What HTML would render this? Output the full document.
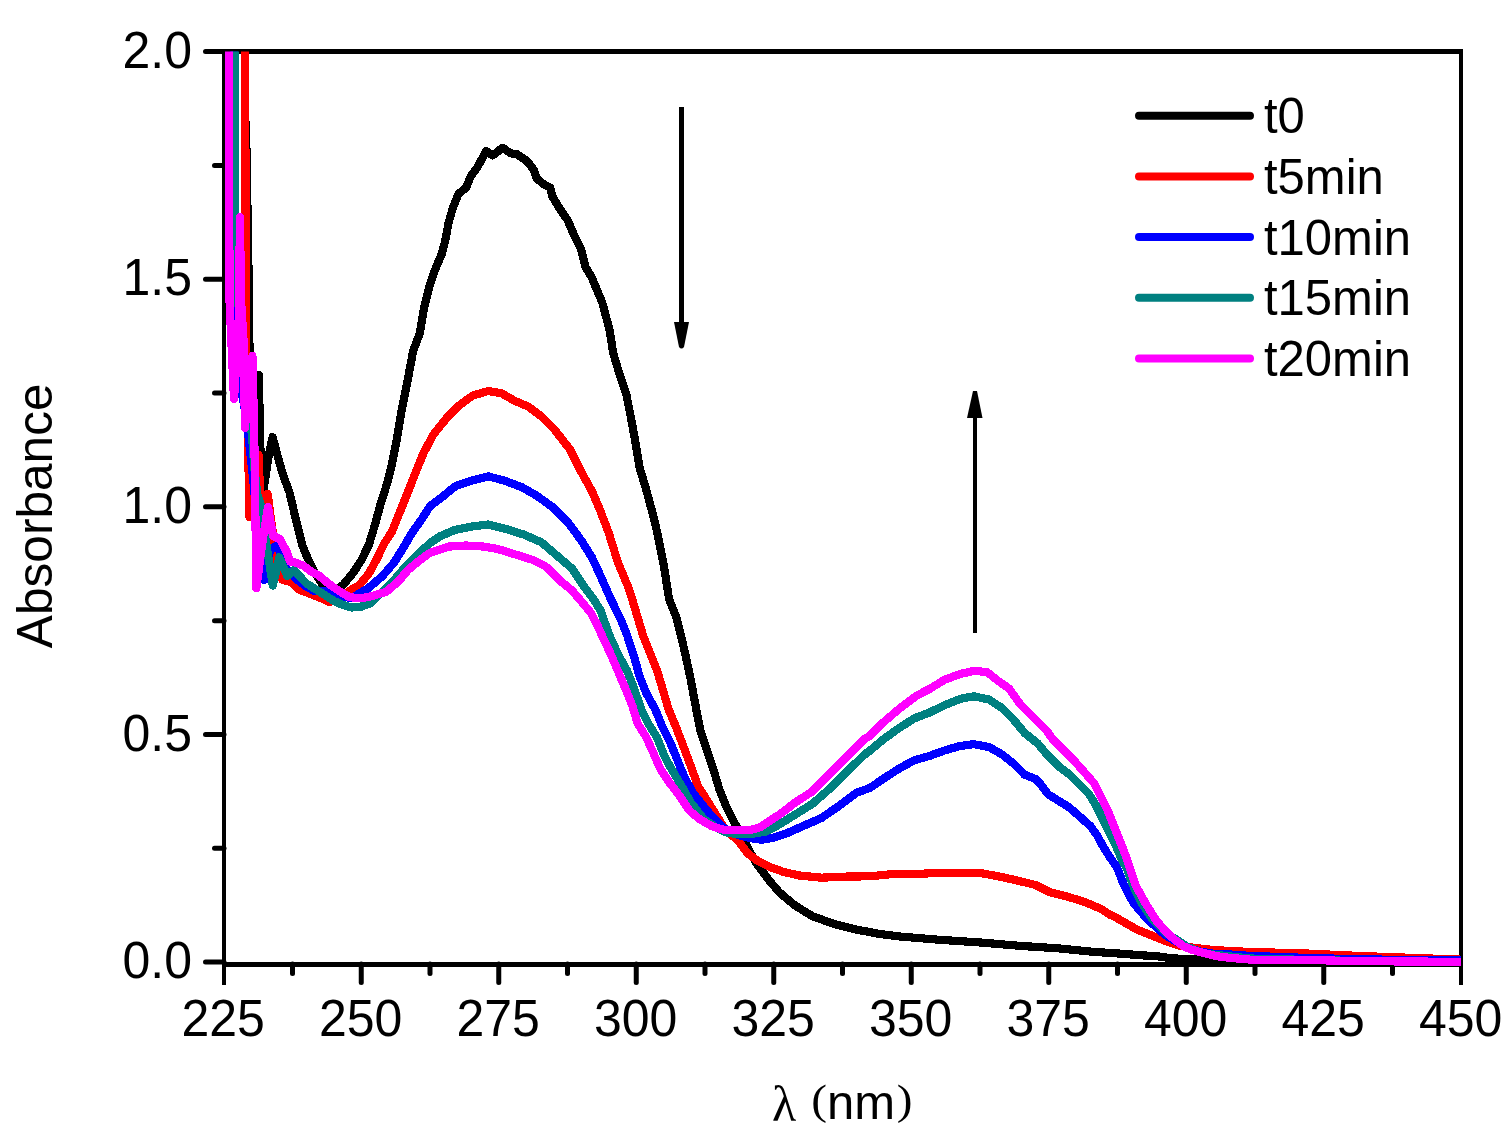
<!DOCTYPE html>
<html><head><meta charset="utf-8"><title>Absorbance spectra</title>
<style>
html,body{margin:0;padding:0;background:#fff;}
body{width:1508px;height:1133px;overflow:hidden;}
svg{display:block;}
text{font-family:"Liberation Sans",Arial,sans-serif;font-size:50px;fill:#000;}
</style></head>
<body>
<svg width="1508" height="1133" viewBox="0 0 1508 1133">
<rect width="1508" height="1133" fill="#fff"/>
<g fill="#000">
<rect x="222" y="49" width="1241" height="5"/>
<rect x="222" y="962" width="1241" height="5"/>
<rect x="222" y="49" width="4" height="936"/>
<rect x="1459" y="49" width="4" height="936"/>
<line x1="292.50" y1="964" x2="292.50" y2="973.5" stroke="#000" stroke-width="5" stroke-linecap="round"/><line x1="361.25" y1="964" x2="361.25" y2="982.4" stroke="#000" stroke-width="5" stroke-linecap="round"/><line x1="430.00" y1="964" x2="430.00" y2="973.5" stroke="#000" stroke-width="5" stroke-linecap="round"/><line x1="498.75" y1="964" x2="498.75" y2="982.4" stroke="#000" stroke-width="5" stroke-linecap="round"/><line x1="567.50" y1="964" x2="567.50" y2="973.5" stroke="#000" stroke-width="5" stroke-linecap="round"/><line x1="636.25" y1="964" x2="636.25" y2="982.4" stroke="#000" stroke-width="5" stroke-linecap="round"/><line x1="705.00" y1="964" x2="705.00" y2="973.5" stroke="#000" stroke-width="5" stroke-linecap="round"/><line x1="773.75" y1="964" x2="773.75" y2="982.4" stroke="#000" stroke-width="5" stroke-linecap="round"/><line x1="842.50" y1="964" x2="842.50" y2="973.5" stroke="#000" stroke-width="5" stroke-linecap="round"/><line x1="911.25" y1="964" x2="911.25" y2="982.4" stroke="#000" stroke-width="5" stroke-linecap="round"/><line x1="980.00" y1="964" x2="980.00" y2="973.5" stroke="#000" stroke-width="5" stroke-linecap="round"/><line x1="1048.75" y1="964" x2="1048.75" y2="982.4" stroke="#000" stroke-width="5" stroke-linecap="round"/><line x1="1117.50" y1="964" x2="1117.50" y2="973.5" stroke="#000" stroke-width="5" stroke-linecap="round"/><line x1="1186.25" y1="964" x2="1186.25" y2="982.4" stroke="#000" stroke-width="5" stroke-linecap="round"/><line x1="1255.00" y1="964" x2="1255.00" y2="973.5" stroke="#000" stroke-width="5" stroke-linecap="round"/><line x1="1323.75" y1="964" x2="1323.75" y2="982.4" stroke="#000" stroke-width="5" stroke-linecap="round"/><line x1="1392.50" y1="964" x2="1392.50" y2="973.5" stroke="#000" stroke-width="5" stroke-linecap="round"/>
<line x1="205.5" y1="962.10" x2="224" y2="962.10" stroke="#000" stroke-width="5" stroke-linecap="round"/><line x1="214.5" y1="848.29" x2="224" y2="848.29" stroke="#000" stroke-width="5" stroke-linecap="round"/><line x1="205.5" y1="734.48" x2="224" y2="734.48" stroke="#000" stroke-width="5" stroke-linecap="round"/><line x1="214.5" y1="620.66" x2="224" y2="620.66" stroke="#000" stroke-width="5" stroke-linecap="round"/><line x1="205.5" y1="506.85" x2="224" y2="506.85" stroke="#000" stroke-width="5" stroke-linecap="round"/><line x1="214.5" y1="393.04" x2="224" y2="393.04" stroke="#000" stroke-width="5" stroke-linecap="round"/><line x1="205.5" y1="279.23" x2="224" y2="279.23" stroke="#000" stroke-width="5" stroke-linecap="round"/><line x1="214.5" y1="165.41" x2="224" y2="165.41" stroke="#000" stroke-width="5" stroke-linecap="round"/><line x1="205.5" y1="51.60" x2="224" y2="51.60" stroke="#000" stroke-width="5" stroke-linecap="round"/>
</g>
<defs><clipPath id="pc"><rect x="224" y="51.5" width="1237" height="914.5"/></clipPath></defs>
<g clip-path="url(#pc)" fill="none" stroke-width="8.2" stroke-linejoin="round" stroke-linecap="round" shape-rendering="crispEdges">
<polyline stroke="#000000" points="244.5,30 245,110 246.5,150 249,300 249.5,352 253,400 259,375 259.8,430 261,465 263.5,490 268,460 272.6,437 276.5,452 283,475 289.5,492.4 296.2,520.8 302.4,545.5 308.5,560.3 314.7,572.7 322.1,583.8 330,591.1 335.8,591 343.6,584.3 353.3,572.7 361.1,560.6 368.8,545 374.7,525.6 380.5,504.3 387.3,482.9 392.1,463.5 397,438.3 401.8,409.1 407.7,380 413.2,350.8 419.9,333.1 424.3,306.6 428.7,288.9 435.3,269.1 441.9,253.6 445.3,240.4 448.6,222.7 453,207.3 458.5,194 466.2,187.4 470.6,176.4 477.3,167.5 486.1,151 492.7,155.4 502.6,147.7 510.4,153.2 517,154.3 526.9,160.9 533.6,169.7 536.9,178.6 543.5,184.1 550.1,187.4 552.3,196.2 558.9,207.3 567.8,220.5 574.4,236 581,249.2 585.4,266.9 592,277.9 596.5,288.9 602.1,302 609.8,330.8 613.1,352.8 619.7,374.9 626.4,394.8 630.8,416.9 635.2,441.1 639.6,467.6 646.2,489.7 652.8,514 657.4,533.1 664,566.2 668.4,594.9 669.4,600 676.5,617.7 681.8,638.8 686.2,658.3 690.6,679 694.5,700 697.5,716 700.5,731 707.1,750.6 714.1,771.8 719.4,789.5 726.5,807.1 733.6,821.2 740.6,833.6 747.7,847.7 756.5,863.6 765.3,875.2 768.3,879.4 779.3,892.3 794.8,905.3 812.5,916.3 834.5,924.1 856.6,929.6 880,934 899.8,936.5 939.6,939.8 979.4,942.4 1019.2,945.8 1058.9,948.4 1094,951.9 1116,953.3 1140,955.2 1158,956.3 1169,958 1184,959 1198,959.6 1226,961.5 1300,962.5 1461,963"/>
<polyline stroke="#ff0000" points="245.2,30 245.5,200 245.5,350 247,400 248,440 249.5,517 254,480 258.5,455 260.5,500 263,515 267.8,494 271,520 274,540 276,560 282,579.5 291.2,582.2 299.2,589.7 309.8,593.7 323.4,599.2 329.6,602 341,598 349.4,590.8 359.1,585.4 368.8,573.7 376.6,559.4 384.4,543.1 392.1,531.5 399.9,512 407.7,492.6 415.4,473.2 423.2,453.8 433.1,434.9 446.4,418.4 459.6,405.1 472.8,395.5 488.3,391 501.5,393.2 514.8,400.9 528,406.4 541.3,416.4 554.5,429.6 570,449.5 581,471.5 592,491.4 600,510 608.8,533.1 617.7,561.8 628.7,588.3 632.4,600 637.7,617.7 643,635.3 650,653 657.1,670.6 662.4,688.3 668.5,709 676,727 684.1,748.1 691.2,767.3 698.2,786.4 707.1,800.5 715.9,814.6 726.5,831.3 737.1,839.5 747.7,853.4 758.3,861.3 768.9,866.6 780,870.6 781.5,871.5 799.2,875.5 821.3,877.7 845.6,876.6 870,876.3 892.1,874.1 914.2,874.1 936.2,873 958.3,873 980.4,873 998,876.3 1013.5,879.6 1035.6,885 1050,892.3 1067.7,896.7 1085.3,902.2 1100.8,908.8 1110,914.7 1116.2,917.6 1136.5,929.4 1151.5,935.3 1163,940 1180,946 1200,948.5 1213,950 1235,951.2 1250,952 1300,953.2 1360,956 1410,957.8 1460,959.6"/>
<polyline stroke="#0000ff" points="234,30 234,245 234.5,316 239.5,380 244,405 248,432 254,487 257.5,530 262,568 264.5,580 270,550 276,546 280,551 284,566 291.2,573.5 297.4,580 306.1,586.5 314.7,591.2 324.6,591.2 333.3,593.7 341.9,596.8 351.8,598 359.1,593.6 368.8,587.8 382.4,576.1 394.1,562.5 403.8,547 411.6,533.4 421.3,519.8 430,506.2 439.7,499 455.2,486.3 470.6,480.8 488.3,476.4 503.8,480.4 521.4,487 536.9,495.8 552.3,506.9 567.8,522.3 581,540 592,557.6 598.7,572 611.2,600 620,617.7 627.1,635.3 634.1,656.5 639.4,675.9 646.5,693.6 655.3,709.5 662.4,727.1 670,741.8 677.1,759.4 684.1,776.4 693,792.9 703.5,806.3 714.1,818.7 724.7,828.7 737.1,834.7 749.4,838 761.8,839.8 772.4,838 780,835.4 786,833.6 803.6,825.8 821.3,818.1 838.9,806 856.6,792.7 870,787.9 883.2,778.9 898.7,768.8 914.2,760.3 929.6,755.9 945.1,750.3 960.5,745.9 973.8,744.2 989.2,747.1 1002.5,754.8 1013.5,763.6 1024.5,774.7 1035.6,779.1 1040,783.5 1047.9,794.1 1058.5,800.7 1069.1,807.3 1079.7,816.6 1090.3,825.9 1096.9,835.1 1103.5,847.1 1110.1,857.6 1117,867.5 1124,885.3 1133.5,903 1147,919 1165,935 1175,941 1187,947.5 1200,951.5 1213,953.6 1235,954.8 1250,955.9 1300,957.7 1360,959.3 1410,960 1460,960.5"/>
<polyline stroke="#008080" points="235,30 235,211 235,245 240,330 246,400 252,435 254.5,470 257.5,495 261,505 263.5,520 266.5,545 272.8,585.5 279.3,557.4 287.3,576 293.7,570.2 298.7,575.2 306.1,583.2 314.7,588.8 324.6,594.9 333.3,600.6 341.9,604.6 351.8,607.5 361.7,606.5 370.3,603.4 382.4,591.7 394.1,580 405.7,566.4 417.4,554.8 430,543.1 440,536.3 455.2,529.8 472.8,526.4 488.3,524.5 506,528.9 523.6,534.5 541.3,542.2 556.7,555.4 572.2,568.7 585.4,588.5 593.5,599 600.6,610.6 609.4,635.3 618.2,654.7 627.1,670.6 634.1,688.3 641.2,709.5 648.3,723.6 657.1,737.7 664.2,755.4 670,766.5 680.6,784.4 691.2,803.1 703.5,818.7 715.9,827.5 728.3,833.2 740.6,833.9 753,833.6 765.3,831.8 775.9,826.5 794.8,814.8 812.5,803.8 830.1,788.3 847.8,770.6 865.4,753.9 870,750.6 883.2,739.5 898.7,728.3 914.2,718.4 929.6,712.5 945.1,704.9 960.5,698.8 973.8,696.3 989.2,699.6 1002.5,708.4 1013.5,719.5 1024.5,732.9 1037.8,743.5 1047.9,755.7 1058.5,766.3 1069.1,774.3 1079.7,784.8 1089,794.1 1095.6,804.7 1102.2,817.9 1108.8,831.2 1115.4,844.4 1122.1,860.3 1126.5,867.7 1133,885.3 1141.5,903 1152.5,919.5 1166.5,933.5 1177,940 1187,946.5 1197,951 1208,954 1250,958.5 1330,960.5 1460,962"/>
<polyline stroke="#ff00ff" points="229,30 229.5,300 234,399 238.5,330 240,217 241,300 243.5,340 245,428 249,380 252.5,356 254.5,450 256.4,588 262,545 268,507 273,536 280,539 287.3,553 290,561.5 296.2,562.8 303.6,565.8 311,571.5 318.4,575.2 325.8,581.4 333.3,587.1 341.9,592.7 349.3,597.1 359.2,598.3 368.8,597 386.3,591.7 398,581.9 407.7,570.3 419.3,560.6 430,552.8 448.6,546.6 466.2,545.5 483.9,546.6 497.1,548.8 514.8,554.3 532.5,559.8 545.7,566.5 558.9,579.7 572.2,590.7 585.4,606.2 591,613 597.4,625.3 603.8,639.5 610.5,653.6 616.5,667.7 625.3,688.3 632.4,705.9 637.7,723.6 646.5,737.7 653.6,753.6 660.6,769.5 669,782 678.8,794.8 689.4,810.6 700,819.5 712.4,826.5 724.7,830.1 737.1,830.1 749.4,830.3 760,827.3 770.6,820.2 780,814.2 794.8,802.8 812.5,791.3 830.1,773.6 847.8,756 865.4,738.3 870,735.7 883.2,722.5 898.7,709.2 916.4,695.8 929.6,688.9 945.1,679.5 960.5,673.9 973.8,670.9 987,672 998,680.8 1009.1,688.6 1020.1,704 1033.4,717.3 1046.6,730.5 1053.2,739.9 1063.8,750.4 1074.4,761 1085,772.9 1094.3,783.5 1100.9,796.8 1107.5,810 1112.8,823.2 1118.1,836.5 1123.4,849.7 1129,865 1135.6,885.3 1145.3,903 1156.3,920.6 1165,930.5 1173.1,938.3 1183,946 1191,949.5 1205.6,953.5 1220,956.8 1235,958.3 1250,959.6 1300,959.8 1360,961.2 1460,961.8"/>
</g>
<g><text transform="translate(223.2,1035.6) scale(1,1.035)" text-anchor="middle">225</text><text transform="translate(360.7,1035.6) scale(1,1.035)" text-anchor="middle">250</text><text transform="translate(498.2,1035.6) scale(1,1.035)" text-anchor="middle">275</text><text transform="translate(635.7,1035.6) scale(1,1.035)" text-anchor="middle">300</text><text transform="translate(773.2,1035.6) scale(1,1.035)" text-anchor="middle">325</text><text transform="translate(910.7,1035.6) scale(1,1.035)" text-anchor="middle">350</text><text transform="translate(1048.2,1035.6) scale(1,1.035)" text-anchor="middle">375</text><text transform="translate(1185.7,1035.6) scale(1,1.035)" text-anchor="middle">400</text><text transform="translate(1323.2,1035.6) scale(1,1.035)" text-anchor="middle">425</text><text transform="translate(1460.7,1035.6) scale(1,1.035)" text-anchor="middle">450</text></g>
<g><text transform="translate(192,978.3) scale(1,1.035)" text-anchor="end">0.0</text><text transform="translate(192,750.7) scale(1,1.035)" text-anchor="end">0.5</text><text transform="translate(192,523.0) scale(1,1.035)" text-anchor="end">1.0</text><text transform="translate(192,295.4) scale(1,1.035)" text-anchor="end">1.5</text><text transform="translate(192,67.8) scale(1,1.035)" text-anchor="end">2.0</text></g>
<text transform="translate(52.4,515.8) rotate(-90)" text-anchor="middle" style="font-size:49.6px">Absorbance</text>
<text x="772" y="1120.5" style="font-family:'Liberation Serif',serif">λ</text>
<text transform="translate(811.3,1113.6) scale(1.1,1)" style="font-family:'Liberation Serif',serif;font-size:43px">(</text>
<text x="827" y="1118.8" style="font-size:49px">nm</text>
<text transform="translate(896.8,1113.6) scale(1.1,1)" style="font-family:'Liberation Serif',serif;font-size:43px">)</text>
<!-- arrows -->
<g fill="#000">
<rect x="679" y="107" width="5" height="216"/>
<path d="M674,322 L689,322 L684,347 Q681.5,350 679,347 Z"/>
<rect x="973" y="416" width="4" height="217"/>
<path d="M967,418 L982.5,418 L977,391 L973,391 Z"/>
</g>
<g><line x1="1139" y1="115.7" x2="1250" y2="115.7" stroke="#000000" stroke-width="8" stroke-linecap="round"/><text transform="translate(1264,133.2) scale(1,1.035)" style="font-size:49px">t0</text><line x1="1139" y1="176.4" x2="1250" y2="176.4" stroke="#ff0000" stroke-width="8" stroke-linecap="round"/><text transform="translate(1264,193.9) scale(1,1.035)" style="font-size:49px">t5min</text><line x1="1139" y1="237.1" x2="1250" y2="237.1" stroke="#0000ff" stroke-width="8" stroke-linecap="round"/><text transform="translate(1264,254.6) scale(1,1.035)" style="font-size:49px">t10min</text><line x1="1139" y1="297.8" x2="1250" y2="297.8" stroke="#008080" stroke-width="8" stroke-linecap="round"/><text transform="translate(1264,315.3) scale(1,1.035)" style="font-size:49px">t15min</text><line x1="1139" y1="358.5" x2="1250" y2="358.5" stroke="#ff00ff" stroke-width="8" stroke-linecap="round"/><text transform="translate(1264,376.0) scale(1,1.035)" style="font-size:49px">t20min</text></g>
</svg>
</body></html>
